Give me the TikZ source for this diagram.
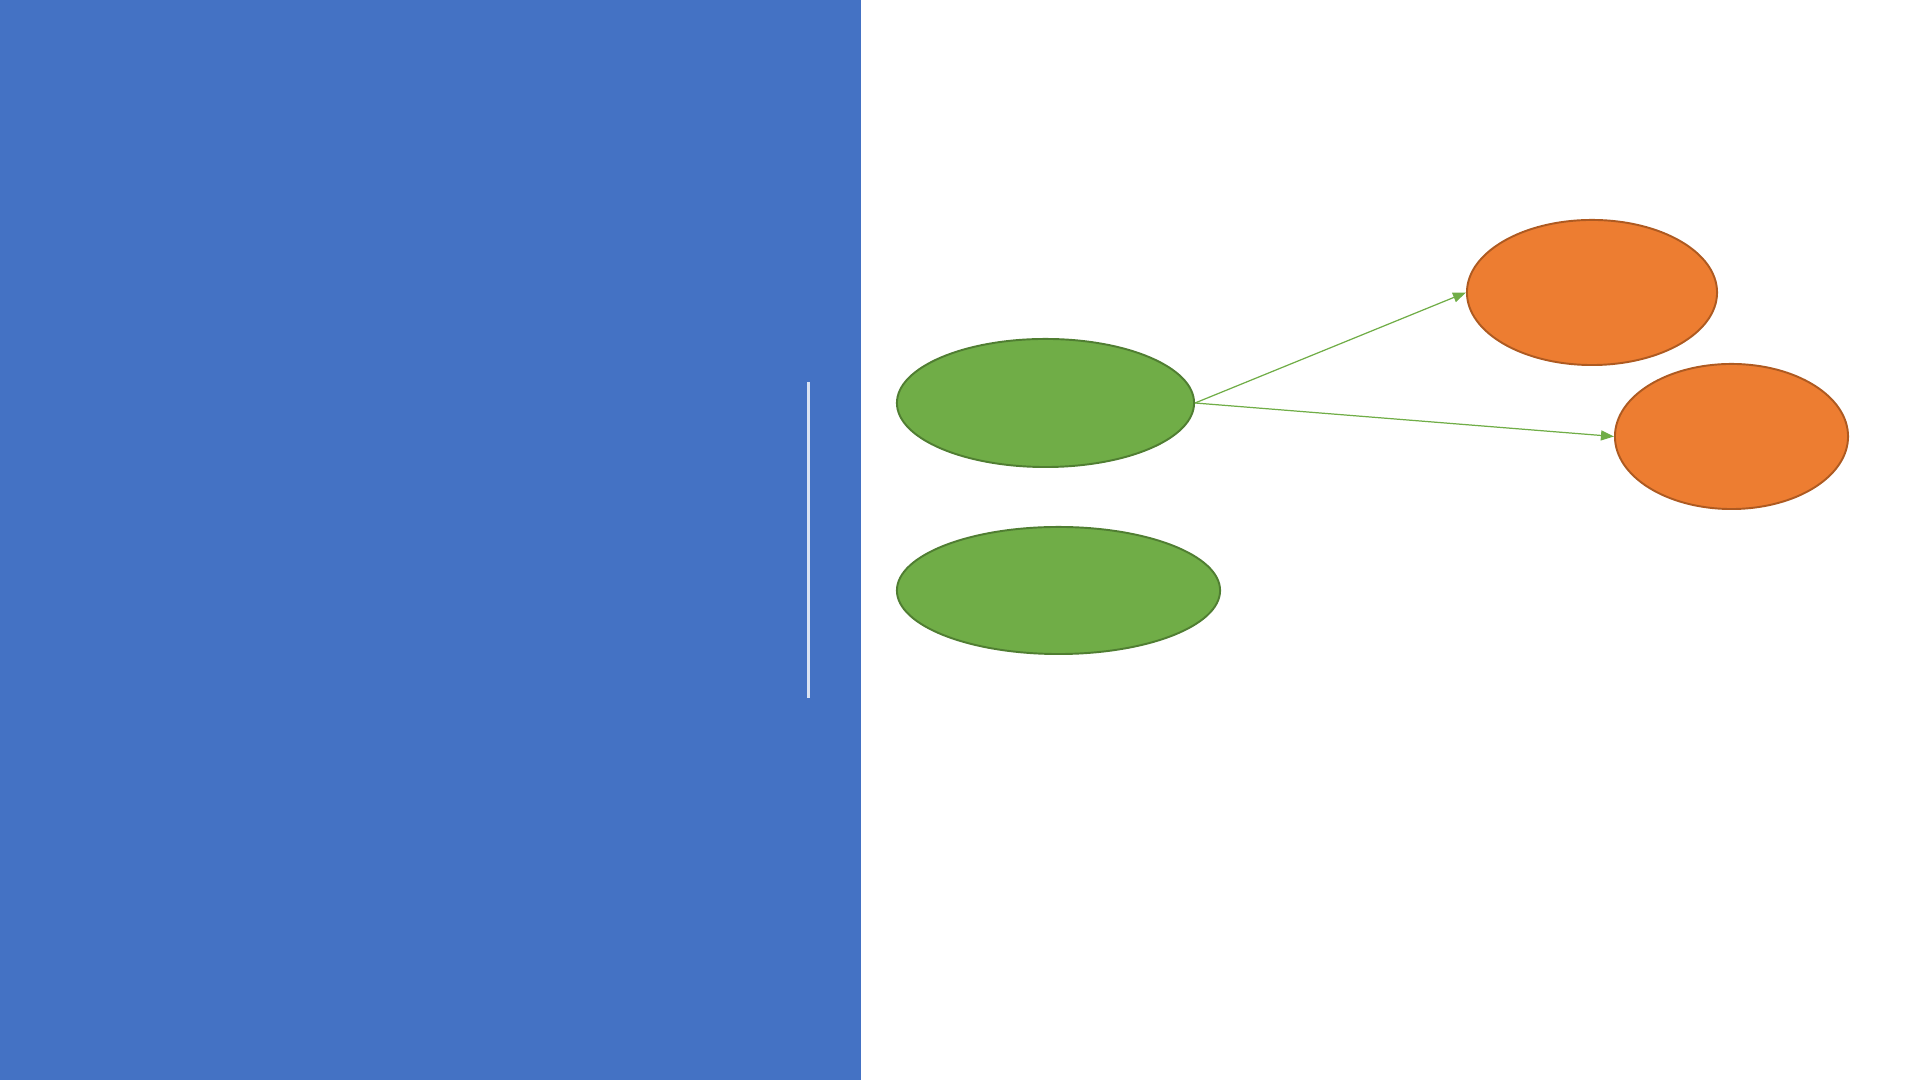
\documentclass[tikz,border=0pt]{standalone}
\usepackage{tikz}
\usetikzlibrary{shapes.geometric, positioning, arrows.meta}
\usepackage{xcolor}
\definecolor{panelblue}{RGB}{68,114,196}
\definecolor{barline}{RGB}{218,227,243}
\definecolor{leafgreen}{RGB}{112,173,71}
\definecolor{leafedge}{RGB}{80,126,50}
\definecolor{fruitorange}{RGB}{237,125,49}
\definecolor{fruitedge}{RGB}{174,90,33}

\begin{document}
\begin{tikzpicture}[x=0.01cm, y=-0.01cm, on grid,
    src/.style={ellipse, draw=leafedge, fill=leafgreen, line width=0.55pt, inner sep=0pt},
    dst/.style={ellipse, draw=fruitedge, fill=fruitorange, line width=0.55pt, inner sep=0pt},
    link/.style={color=leafgreen, line width=0.35pt, -{Triangle[length=0.13cm, width=0.1cm]}}]
   \useasboundingbox (0,0) rectangle (1920,1080);
   % left panel
   \fill[panelblue] (0,0) rectangle (861,1080);
   \coordinate (bar_top) at (808,382);
   \coordinate (bar_bot) at (808,698);
   \draw[barline, line width=0.85pt] (bar_top) -- (bar_bot);

   \node[src, minimum width=2.97cm, minimum height=1.28cm] (s_1) at (1045.5,403) {};
   \node[src, minimum width=3.23cm, minimum height=1.27cm] (s_2) at (1058.5,590.5) {};
   \node[dst, minimum width=2.50cm, minimum height=1.45cm] (t_1) at (1592,292.5) {};
   \node[dst, minimum width=2.33cm, minimum height=1.45cm] (t_2) at (1731.5,436.5) {};

   \path
    % upper target
    (s_1.east) edge[link] (t_1.west)
    % lower target
    (s_1.east) edge[link] (t_2.west)
    ;
\end{tikzpicture}
\end{document}
